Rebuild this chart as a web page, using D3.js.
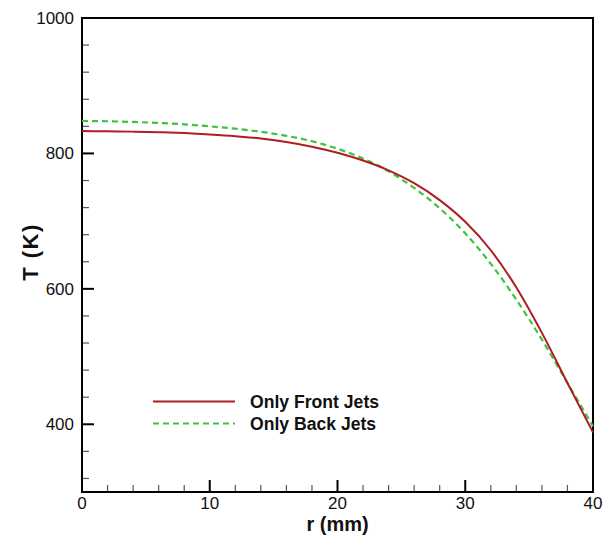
<!DOCTYPE html>
<html>
<head>
<meta charset="utf-8">
<script src="https://cdn.jsdelivr.net/npm/d3@7"></script>
<style>
  html, body { margin: 0; padding: 0; background: #fff; }
  svg { display: block; font-family: "Liberation Sans", Arial, Helvetica, sans-serif; }
</style>
</head>
<body>
<svg id="chart" width="610" height="535"></svg>
<script>
// Radial position (mm)
const radius = [0, 2, 4, 6, 8, 10, 12, 14, 16, 18, 20, 22, 24, 26, 28, 30, 32, 34, 36, 38, 40];
// Temperature (K) with only the front jets active
const frontJets = [833, 832.7, 832.2, 831.3, 830, 828, 825.5, 822, 817, 810, 801, 789.5, 775, 756, 731, 699, 657, 602, 535, 461, 388];
// Temperature (K) with only the back jets active
const backJets = [848, 847.5, 846.5, 845, 843, 840, 836.5, 832, 826, 818, 807, 792.5, 773.5, 749, 719, 682, 637, 584, 525, 461, 397];

const seriesNames = ["Only Front Jets", "Only Back Jets"];
const xMajorTicks = [0, 10, 20, 30, 40];
const yMajorTicks = [400, 600, 800, 1000];

const svg = d3.select("#chart");
const margin = { left: 82, right: 17, top: 18, bottom: 43 };
const W = 610, H = 535;

const x = d3.scaleLinear().domain([0, 40]).range([margin.left, W - margin.right]);
const y = d3.scaleLinear().domain([300, 1000]).range([H - margin.bottom, margin.top]);

const xMinor = d3.range(0, 41, 2).filter(v => v % 10 !== 0);
const yMinor = d3.range(320, 1000, 40).filter(v => v % 200 !== 0);

// Bottom axis: inward minor and major ticks, labels below
const gx = svg.append("g");
gx.selectAll("line.minor").data(xMinor).join("line")
  .attr("x1", d => x(d)).attr("x2", d => x(d))
  .attr("y1", y(300)).attr("y2", y(300) - 7)
  .attr("stroke", "#555").attr("stroke-width", 1.2);
gx.selectAll("line.major").data(xMajorTicks).join("line")
  .attr("x1", d => x(d)).attr("x2", d => x(d))
  .attr("y1", y(300)).attr("y2", y(300) - 12)
  .attr("stroke", "#000").attr("stroke-width", 2);
gx.selectAll("text").data(xMajorTicks).join("text")
  .attr("x", d => x(d)).attr("y", y(300) + 17)
  .attr("text-anchor", "middle")
  .attr("font-size", 17).attr("fill", "#111")
  .text(d => d);

// Left axis
const gy = svg.append("g");
gy.selectAll("line.minor").data(yMinor).join("line")
  .attr("x1", x(0)).attr("x2", x(0) + 7)
  .attr("y1", d => y(d)).attr("y2", d => y(d))
  .attr("stroke", "#555").attr("stroke-width", 1.2);
gy.selectAll("line.major").data(yMajorTicks).join("line")
  .attr("x1", x(0)).attr("x2", x(0) + 12)
  .attr("y1", d => y(d)).attr("y2", d => y(d))
  .attr("stroke", "#000").attr("stroke-width", 2);
gy.selectAll("text").data(yMajorTicks).join("text")
  .attr("x", x(0) - 8).attr("y", d => y(d) + 6)
  .attr("text-anchor", "end")
  .attr("font-size", 17).attr("fill", "#111")
  .text(d => d);

// Frame
svg.append("rect")
  .attr("x", x(0)).attr("y", y(1000))
  .attr("width", x(40) - x(0)).attr("height", y(300) - y(1000))
  .attr("fill", "none").attr("stroke", "#000").attr("stroke-width", 2);

// Curves
const line = d3.line()
  .x((d, i) => x(radius[i]))
  .y(d => y(d))
  .curve(d3.curveMonotoneX);

svg.append("path").datum(backJets)
  .attr("d", line)
  .attr("fill", "none").attr("stroke", "#3cc43c")
  .attr("stroke-width", 2.2).attr("stroke-dasharray", "6,4");

svg.append("path").datum(frontJets)
  .attr("d", line)
  .attr("fill", "none").attr("stroke", "#b01c20")
  .attr("stroke-width", 2);

// Legend
const legend = svg.append("g");
const legendRows = [
  { name: seriesNames[0], color: "#b01c20", dash: null, yPos: 401.5 },
  { name: seriesNames[1], color: "#3cc43c", dash: "6,4", yPos: 423.5 }
];
legendRows.forEach(r => {
  legend.append("line")
    .attr("x1", 153).attr("x2", 235)
    .attr("y1", r.yPos).attr("y2", r.yPos)
    .attr("stroke", r.color).attr("stroke-width", 2)
    .attr("stroke-dasharray", r.dash);
  legend.append("text")
    .attr("x", 250).attr("y", r.yPos + 6)
    .attr("font-size", 17.6).attr("font-weight", "bold").attr("fill", "#111")
    .text(r.name);
});

// Axis titles
svg.append("text")
  .attr("x", (x(0) + x(40)) / 2).attr("y", 531)
  .attr("text-anchor", "middle")
  .attr("font-size", 20).attr("font-weight", "bold").attr("fill", "#111")
  .text("r (mm)");

svg.append("text")
  .attr("transform", `translate(38, ${(y(300) + y(1000)) / 2 - 3}) rotate(-90)`)
  .attr("text-anchor", "middle")
  .attr("font-size", 22).attr("font-weight", "bold").attr("fill", "#111")
  .attr("letter-spacing", 1.5)
  .text("T (K)");
</script>
</body>
</html>
